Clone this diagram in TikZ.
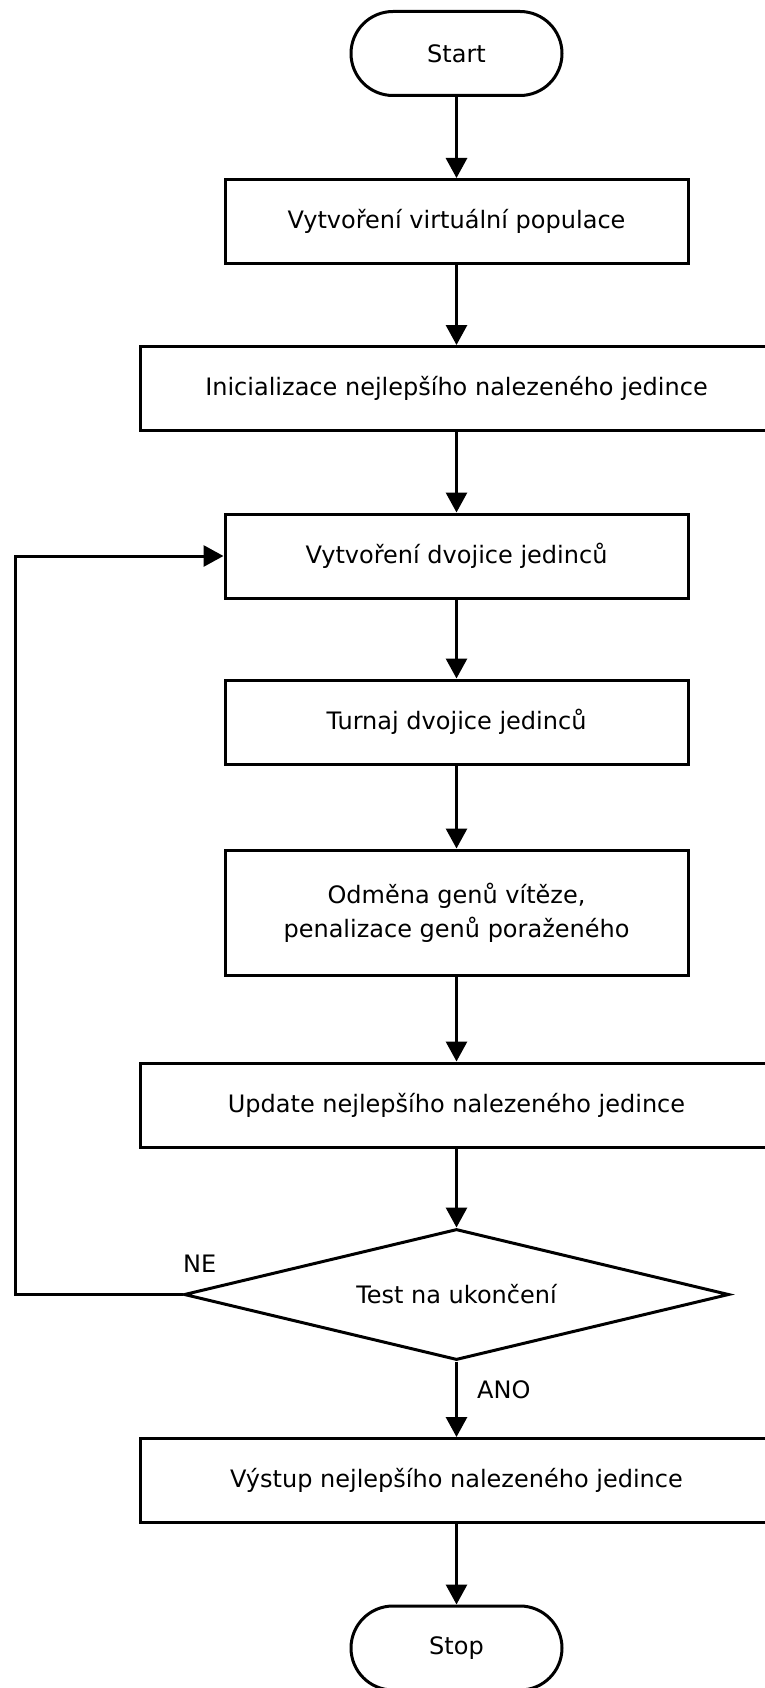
\documentclass[tikz,border=0pt]{standalone}
\usepackage{fontspec}
\setmainfont{DejaVu Sans}
\usetikzlibrary{arrows.meta,shapes.geometric}

\tikzset{
  every node/.style={font=\fontsize{24}{34}\selectfont, inner sep=0pt},
  flowbox/.style={draw, line width=3pt, rectangle, minimum height=84pt, align=center},
  narrowbox/.style={flowbox, minimum width=463pt},
  widebox/.style={flowbox, minimum width=633pt},
  terminal/.style={draw, line width=3pt, rectangle, rounded corners=42pt,
                   minimum width=211pt, minimum height=84pt},
  decision/.style={draw, line width=3pt, diamond, aspect=4.16,
                   minimum width=545pt, minimum height=131pt},
  flow/.style={line width=3pt, -{Triangle[length=20pt,width=21pt]}},
  label/.style={anchor=west}
}

\begin{document}
\begin{tikzpicture}[x=1pt, y=-1pt]
  \useasboundingbox (0,0) rectangle (765,1688);
  \clip (0,0) rectangle (765,1688);

  % main column of steps
  \node[terminal]  (start) at (456.5,53.5)  {Start};
  \node[narrowbox] (pop)   at (456.5,221.5) {Vytvoření virtuální populace};
  \node[widebox]   (init)  at (456.5,388.5) {Inicializace nejlepšího nalezeného jedince};
  \node[narrowbox] (pair)  at (456.5,556)   {Vytvoření dvojice jedinců};
  \node[narrowbox] (tour)  at (456.5,722)   {Turnaj dvojice jedinců};
  \node[narrowbox, minimum height=125pt] (reward) at (456.5,912.5)
        {Odměna genů vítěze,\\penalizace genů poraženého};
  \node[widebox]   (upd)   at (456.5,1105)  {Update nejlepšího nalezeného jedince};
  \node[decision]  (test)  at (456.5,1294.5) {Test na ukončení};
  \node[widebox]   (out)   at (456.5,1480.5) {Výstup nejlepšího nalezeného jedince};
  \node[terminal]  (stop)  at (456.5,1648)  {Stop};

  % connectors
  \draw[flow] (start) -- (pop);
  \draw[flow] (pop)   -- (init);
  \draw[flow] (init)  -- (pair);
  \draw[flow] (pair)  -- (tour);
  \draw[flow] (tour)  -- (reward);
  \draw[flow] (reward) -- (upd);
  \draw[flow] (upd)   -- (test);
  \draw[flow] (test)  -- (out);
  \draw[flow] (out)   -- (stop);

  % loop back when the test fails
  \coordinate (loopcorner) at (15,1294.5);
  \draw[flow] (test.west) -- (loopcorner) |- (pair.west);

  % branch labels
  \node[label] (ne)  at (183,1264) {NE};
  \node[label] (ano) at (477,1390) {ANO};
\end{tikzpicture}
\end{document}
